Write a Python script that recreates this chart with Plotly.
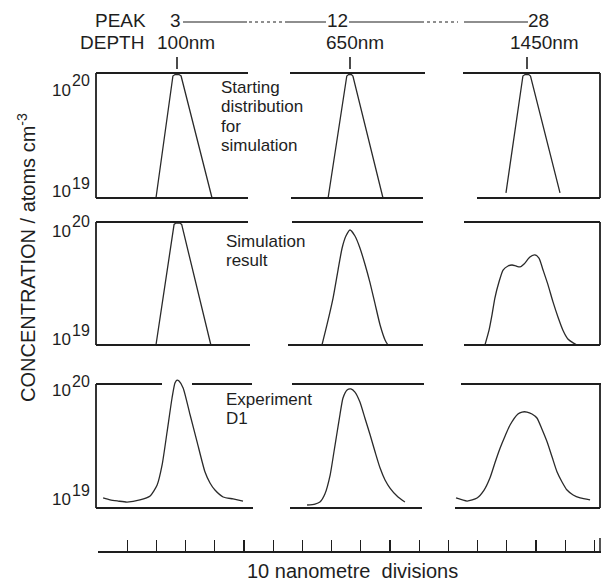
import plotly.graph_objects as go

W, H = 601, 583

# ---------------- data (depth in nm, concentration in units of 1e19 atoms cm^-3) ----------------
peak_numbers = ["3", "12", "28"]
peak_depths_nm = [100, 650, 1450]
depth_labels = ["100nm", "650nm", "1450nm"]
row_texts = [["Starting", "distribution", "for", "simulation"],
             ["Simulation", "result"],
             ["Experiment", "D1"]]
decade_base = "10"
decade_exps = ["20", "19"]
y_title = "CONCENTRATION / atoms cm<sup>-3</sup>"
x_title = "10 nanometre  divisions"
scale_step_nm = 10

# Row 1: starting distribution for simulation
start_p3_depth = [92.8, 98.6, 99.3, 100.0, 100.7, 101.4, 112.0]
start_p3_conc = [1.00, 9.46, 9.72, 9.77, 9.72, 9.46, 1.00]
start_p12_depth = [642.5, 648.9, 649.5, 650.0, 650.5, 651.0, 661.3]
start_p12_conc = [1.00, 9.46, 9.72, 9.77, 9.72, 9.46, 1.00]
start_p28_depth = [1442.8, 1448.6, 1449.3, 1450.0, 1450.6, 1451.2, 1461.3]
start_p28_conc = [1.10, 9.46, 9.72, 9.77, 9.72, 9.46, 1.10]

# Row 2: simulation result
sim_p3_depth = [92.8, 99.0, 99.6, 100.3, 101.0, 101.6, 111.6]
sim_p3_conc = [1.00, 9.55, 9.80, 9.85, 9.80, 9.55, 1.00]
sim_p12_depth = [640.4, 642.1, 644.2, 645.9, 647.3, 648.6, 650.0, 651.7, 653.4,
                 655.1, 656.8, 658.6, 660.3, 662.0, 663.0]
sim_p12_conc = [1.00, 1.455, 2.41, 4.07, 6.15, 7.69, 8.61, 7.69, 6.15,
                4.56, 3.25, 2.15, 1.455, 1.10, 1.00]
sim_p28_depth = [1435.6, 1437.0, 1438.0, 1439.0, 1440.4, 1441.8, 1443.5, 1444.9, 1446.2,
                 1447.6, 1449.0, 1451.0, 1452.7, 1454.1, 1455.5, 1457.2, 1458.9, 1460.6,
                 1462.3, 1464.0, 1465.8, 1467.1]
sim_p28_conc = [1.00, 1.32, 1.75, 2.41, 3.25, 4.07, 4.39, 4.47, 4.39,
                4.31, 4.56, 5.19, 5.40, 5.09, 4.07, 3.08, 2.24, 1.69,
                1.32, 1.12, 1.04, 1.00]

# Row 3: experiment D1
exp_p3_depth = [74.7, 77.1, 79.8, 82.9, 87.3, 90.8, 93.2, 94.9, 96.6, 98.3, 99.3,
                100.0, 100.7, 102.1, 104.5, 106.9, 109.6, 111.3, 113.0, 115.8, 119.2, 122.6]
exp_p3_conc = [1.205, 1.161, 1.138, 1.117, 1.161, 1.25, 1.531, 2.223, 4.10, 7.71, 10.19,
               10.76, 10.57, 9.29, 5.62, 3.40, 1.95, 1.592, 1.396, 1.227, 1.183, 1.138]
exp_p12_depth = [635.3, 638.0, 639.7, 641.4, 643.2, 644.5, 645.6, 646.6, 647.6, 649.0, 650.3,
                 651.7, 653.4, 655.1, 656.9, 658.6, 660.3, 662.0, 663.7, 666.1, 668.8]
exp_p12_conc = [1.057, 1.076, 1.117, 1.297, 1.845, 2.83, 4.10, 5.73, 7.71, 8.95, 9.12,
                8.61, 7.16, 5.32, 3.88, 2.83, 2.10, 1.683, 1.449, 1.25, 1.117]
exp_p28_depth = [1425.7, 1429.5, 1432.9, 1435.3, 1437.3, 1439.0, 1440.8, 1442.5, 1444.2,
                 1446.9, 1448.3, 1450.0, 1451.7, 1453.4, 1455.1, 1456.9, 1458.6, 1460.3,
                 1462.0, 1463.7, 1465.8, 1468.2, 1471.6]
exp_p28_conc = [1.205, 1.138, 1.205, 1.396, 1.746, 2.307, 3.048, 3.811, 4.667,
                5.728, 5.943, 5.943, 5.728, 5.321, 4.335, 3.404, 2.576, 1.95,
                1.622, 1.396, 1.274, 1.205, 1.161]

series = [
    [(start_p3_depth, start_p3_conc, False), (start_p12_depth, start_p12_conc, False), (start_p28_depth, start_p28_conc, False)],
    [(sim_p3_depth, sim_p3_conc, False), (sim_p12_depth, sim_p12_conc, True), (sim_p28_depth, sim_p28_conc, True)],
    [(exp_p3_depth, exp_p3_conc, True), (exp_p12_depth, exp_p12_conc, True), (exp_p28_depth, exp_p28_conc, True)],
]
UNIT = 1e19

# ---------------- layout geometry (pixels) ----------------
def px(x):
    return x / W


def py(y):
    return 1 - y / H


PX_PER_NM = 2.92
COL_DOM = [(90, 256), (284, 430), (452, 601)]
PEAK_PX = [177, 350, 527]
ROW_LINES = [(73, 198), (222, 345), (384, 508)]
PAD = 10

INK = "#1e1e1e"
FONT = "Liberation Sans, Arial, Helvetica, sans-serif"

fig = go.Figure()
layout = dict(width=W, height=H, autosize=False, margin=dict(l=0, r=0, t=0, b=0),
              paper_bgcolor="white", plot_bgcolor="rgba(0,0,0,0)", showlegend=False)

for r in range(3):
    top, bot = ROW_LINES[r]
    ppd = bot - top
    for c in range(3):
        k = r * 3 + c + 1
        suffix = "" if k == 1 else str(k)
        d0, d1 = COL_DOM[c]
        x0 = peak_depths_nm[c] + (d0 - PEAK_PX[c]) / PX_PER_NM
        x1 = peak_depths_nm[c] + (d1 - PEAK_PX[c]) / PX_PER_NM
        layout["xaxis" + suffix] = dict(domain=[px(d0), px(d1)], range=[x0, x1], visible=False,
                                        anchor="y" + suffix, fixedrange=True)
        layout["yaxis" + suffix] = dict(domain=[py(bot + PAD), py(top - PAD)], type="log",
                                        range=[19 - PAD / ppd, 20 + PAD / ppd], visible=False,
                                        anchor="x" + suffix, fixedrange=True)
        xs, cs, smooth = series[r][c]
        fig.add_trace(go.Scatter(
            x=xs, y=[v * UNIT for v in cs], mode="lines",
            line=dict(color="#2a2a2a", width=1.3,
                      shape="spline" if smooth else "linear", smoothing=0.6),
            xaxis="x" + suffix, yaxis="y" + suffix, hoverinfo="skip"))

# bottom scale of 10 nm divisions
scale_left = 98
scale_right_nm = (W - scale_left) / PX_PER_NM
layout["xaxis10"] = dict(domain=[px(scale_left), 1], range=[0, scale_right_nm],
                         anchor="y10", side="bottom", showgrid=False, zeroline=False,
                         showticklabels=False, ticks="inside", ticklen=11, tickwidth=1.3,
                         tickcolor=INK, showline=True, linecolor=INK, linewidth=1.6,
                         tick0=0, dtick=scale_step_nm, fixedrange=True)
layout["yaxis10"] = dict(domain=[py(551), py(530)], range=[0, 1], visible=False,
                         anchor="x10", fixedrange=True)
fig.add_trace(go.Scatter(x=[0, scale_right_nm], y=[0.5, 0.5], mode="markers",
                         marker=dict(size=1, opacity=0), xaxis="x10", yaxis="y10",
                         hoverinfo="skip"))

shapes = []


def seg(x0, y0, x1, y1, width=1.8, dash="solid"):
    shapes.append(dict(type="line", xref="paper", yref="paper",
                       x0=px(x0), y0=py(y0), x1=px(x1), y1=py(y1),
                       line=dict(color=INK, width=width, dash=dash)))


# frame lines at 10^20 and 10^19
frame_h = [
    (73, [(96, 248), (290, 425), (463, 600)]),
    (198, [(96, 248), (291, 423), (477, 600)]),
    (222, [(96, 248), (292, 423), (464, 600)]),
    (345, [(96, 250), (288, 423), (464, 600)]),
    (384, [(96, 162), (192, 252), (292, 424), (461, 601)]),
    (508, [(96, 253), (290, 422), (455, 600)]),
]
for yy, segs in frame_h:
    for a, b in segs:
        seg(a, yy, b, yy)
for top, bot in ROW_LINES:
    seg(96, top, 96, bot)
    seg(600, top, 600, bot)
seg(600, 538, 600, 553, width=1.5)

# header line joining the peak numbers
for a, b, d in [(183, 247, "solid"), (249, 284, "dot"), (285, 326, "solid"),
                (349, 421, "solid"), (421, 458, "dot"), (464, 528, "solid")]:
    seg(a, 22, b, 22, width=1.2 if d == "solid" else 1.0, dash=d)

# depth ticks at peak positions (data x coordinate)
for c in range(3):
    k = c + 1
    shapes.append(dict(type="line", xref="x" if k == 1 else "x%d" % k, yref="paper",
                       x0=peak_depths_nm[c], x1=peak_depths_nm[c], y0=py(69), y1=py(57),
                       line=dict(color=INK, width=1.6)))

annotations = []


def txt(s, x, y, size, xanchor="center", angle=0):
    annotations.append(dict(text=s, x=px(x), y=py(y), xref="paper", yref="paper",
                            xanchor=xanchor, yanchor="middle", showarrow=False,
                            textangle=angle, borderpad=0,
                            font=dict(family=FONT, size=size, color=INK)))


txt("PEAK", 147, 21, 19, xanchor="right")
txt("DEPTH", 145, 42, 19, xanchor="right")
for lab, xc in zip(peak_numbers, [175, 338, 538]):
    txt(lab, xc, 21, 19)
for lab, xc in zip(depth_labels, [185.5, 354.5, 544]):
    txt(lab, xc, 42, 19)

# decade labels: base right-aligned, exponent left-aligned, same size
lab20 = [(91, 81), (231, 221), (390, 381)]
lab19 = [(192, 184), (339, 330), (499, 490)]
for r in range(3):
    for (yb, ye), e in [(lab20[r], decade_exps[0]), (lab19[r], decade_exps[1])]:
        txt(decade_base, 72, yb, 17, xanchor="right")
        txt(e, 71, ye, 16, xanchor="left")

# row captions
row_text_pos = [(220, [88, 107, 126, 145]), (225, [241, 260]), (225, [399, 418])]
for r in range(3):
    xl, ys = row_text_pos[r]
    for s, yy in zip(row_texts[r], ys):
        txt(s, xl, yy, 17, xanchor="left")

txt(y_title, 27, 258, 20, angle=-90)
txt(x_title, 352, 571, 20)

layout["shapes"] = shapes
layout["annotations"] = annotations
fig.update_layout(**layout)
fig.write_html("out.html", config={"displayModeBar": False, "staticPlot": True},
               post_script="document.body.style.margin='0px';document.body.style.padding='0px';")
